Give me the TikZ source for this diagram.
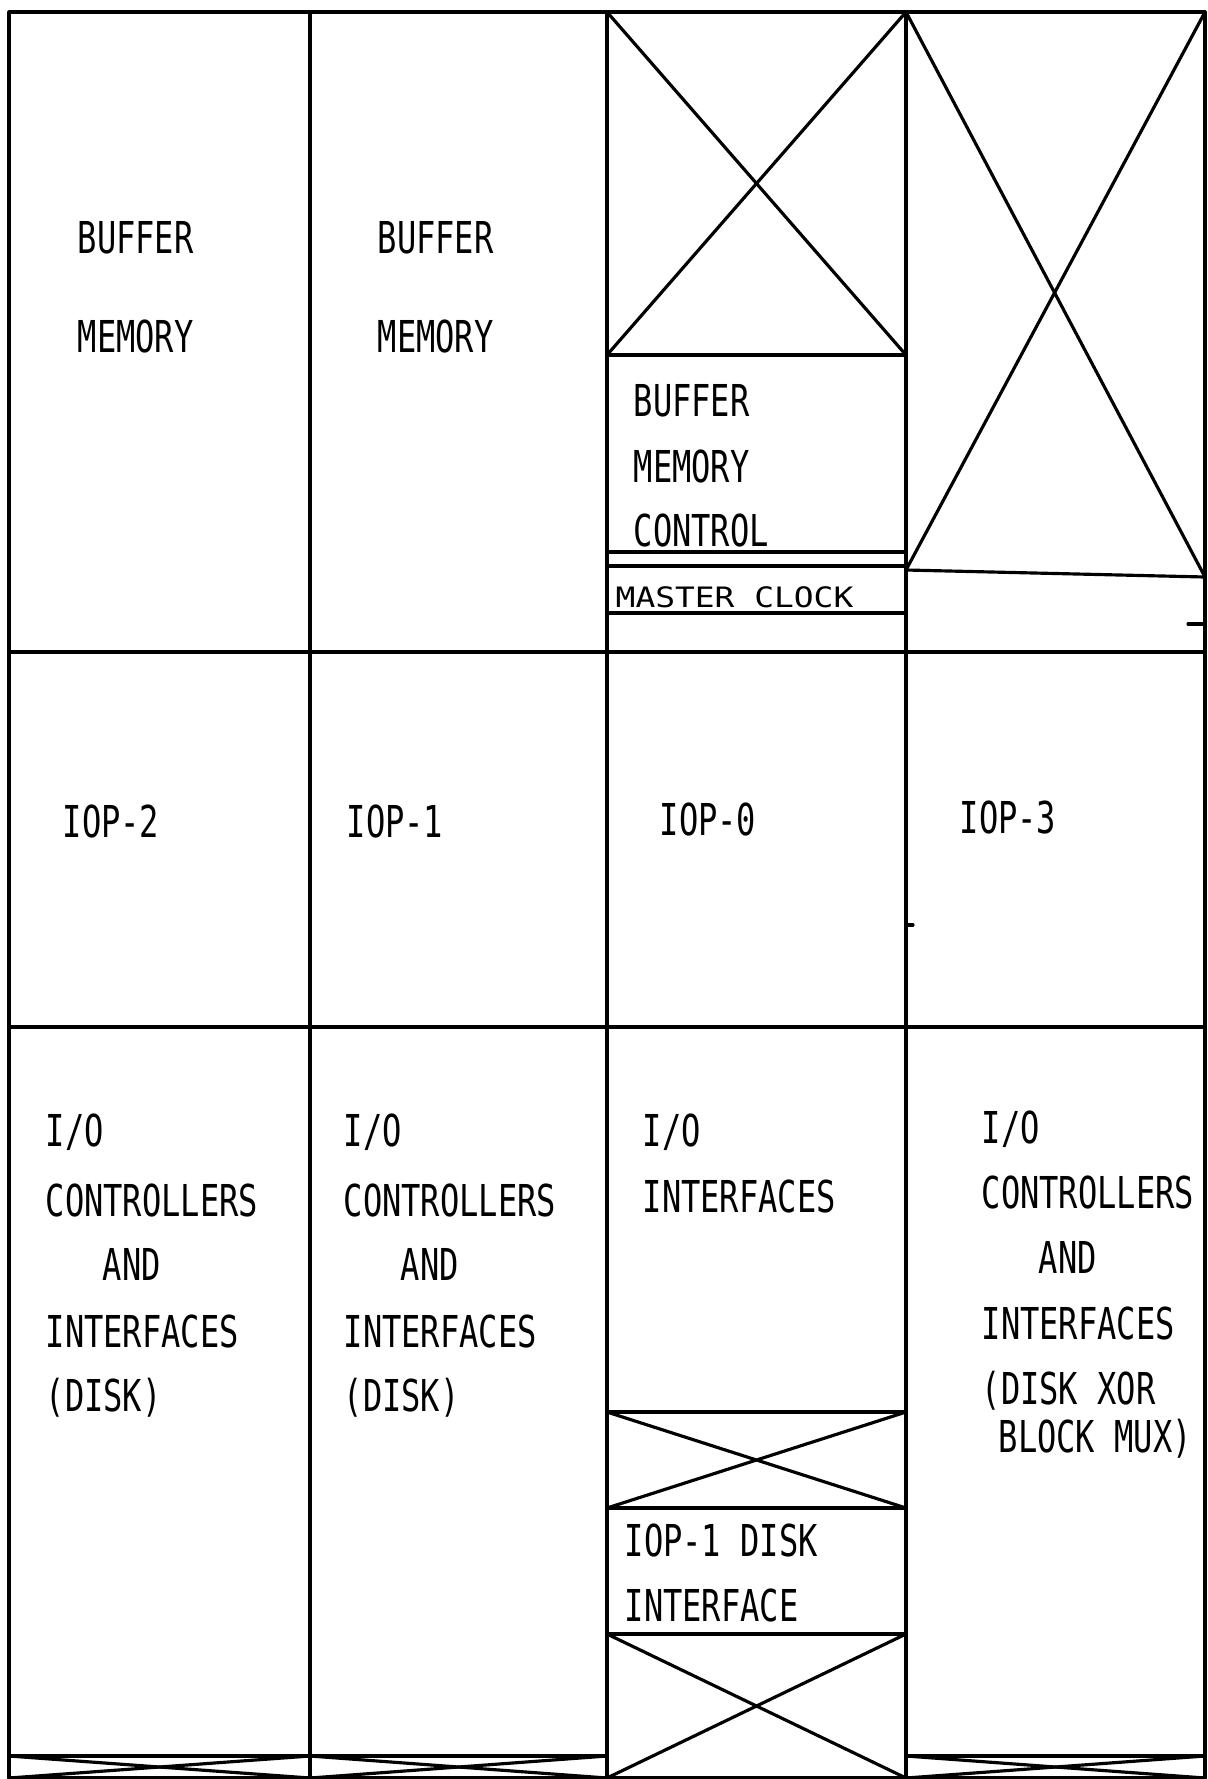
\documentclass[tikz,border=0pt]{standalone}
\usepackage{fontspec}
\newfontfamily\lettering{DejaVu Sans Mono}[FakeStretch=0.73]
\newfontfamily\smalllettering{DejaVu Sans Mono}[FakeStretch=1.17]
\usepackage{tikz}
\usetikzlibrary{positioning,calc}
\tikzset{
  frame/.style={line width=0.9pt, line cap=round, line join=round},
  lbl/.style={anchor=west, inner sep=0pt, font=\lettering\fontsize{12.5}{15}\selectfont},
  small/.style={anchor=west, inner sep=0pt, font=\smalllettering\fontsize{8}{10}\selectfont}
}
\begin{document}
\begin{tikzpicture}[x=0.1mm, y=-0.1mm]
    \useasboundingbox (0,0) rectangle (1207,1779);
    % outer frame and grid
    \draw[frame] (9,12) rectangle (1205,1778);
    \foreach \cx in {310,607,906}
      \draw[frame] (\cx,12) -- (\cx,1778);
    \draw[frame] (9,652) -- (1205,652);
    \draw[frame] (9,1027) -- (1205,1027);
    % bottom strips with crosses
    \foreach \xa/\xb in {9/310,310/607,906/1205} {
      \draw[frame] (\xa,1756) -- (\xb,1756);
      \draw[frame] (\xa,1756) -- (\xb,1778);
      \draw[frame] (\xb,1756) -- (\xa,1778);
    }
    % IOP-0 column, upper part
    \draw[frame] (607,12) -- (906,355) (906,12) -- (607,355);
    \draw[frame] (607,355) -- (906,355);
    \draw[frame] (607,552) -- (906,552);
    \draw[frame] (607,566) -- (906,566);
    \draw[frame] (607,613) -- (906,613);
    % IOP-3 column, upper part
    \draw[frame] (906,12) -- (1205,577) (1205,12) -- (906,570);
    \draw[frame] (906,570) -- (1205,577);
    \draw[frame] (1188,624) -- (1205,624);
    \draw[frame] (906,925) -- (913,925);
    % IOP-0 column, lower part
    \draw[frame] (607,1412) -- (906,1412);
    \draw[frame] (607,1412) -- (906,1508) (906,1412) -- (607,1508);
    \draw[frame] (607,1508) -- (906,1508);
    \draw[frame] (607,1634) -- (906,1634);
    \draw[frame] (607,1634) -- (906,1778) (906,1634) -- (607,1778);
    % buffer memories
    \node[lbl] (bm2a) at (77,238) {BUFFER};
    \node[lbl] (bm2b) at (77,336) {MEMORY};
    \node[lbl] (bm1a) at (377,238) {BUFFER};
    \node[lbl] (bm1b) at (377,336) {MEMORY};
    \node[lbl] (bmca) at (633,401) {BUFFER};
    \node[lbl] (bmcb) at (633,466) {MEMORY};
    \node[lbl] (bmcc) at (633,530) {CONTROL};
    \node[small] (clk) at (615,597) {MASTER CLOCK};
    % IOPs
    \node[lbl] (iop2) at (62,821) {IOP-2};
    \node[lbl] (iop1) at (346,821) {IOP-1};
    \node[lbl] (iop0) at (659,819) {IOP-0};
    \node[lbl] (iop3) at (959,817) {IOP-3};
    % I/O controllers
    \foreach \cx/\cn in {45/a,343/b} {
      \node[lbl] (io\cn1) at (\cx,1132) {I/O};
      \node[lbl] (io\cn2) at (\cx,1200) {CONTROLLERS};
      \node[lbl] (io\cn3) at (\cx+57,1264) {AND};
      \node[lbl] (io\cn4) at (\cx,1331) {INTERFACES};
      \node[lbl] (io\cn5) at (\cx,1398) {(DISK)};
    }
    \node[lbl] (ioc1) at (642,1132) {I/O};
    \node[lbl] (ioc2) at (642,1196) {INTERFACES};
    \node[lbl] (dska) at (624,1540) {IOP-1 DISK};
    \node[lbl] (dskb) at (624,1605) {INTERFACE};
    \node[lbl] (iod1) at (981,1129) {I/O};
    \node[lbl] (iod2) at (981,1192) {CONTROLLERS};
    \node[lbl] (iod3) at (1038,1257) {AND};
    \node[lbl] (iod4) at (981,1323) {INTERFACES};
    \node[lbl] (iod5) at (981,1391) {(DISK XOR};
    \node[lbl] (iod6) at (998,1439) {BLOCK MUX)};
\end{tikzpicture}
\end{document}
